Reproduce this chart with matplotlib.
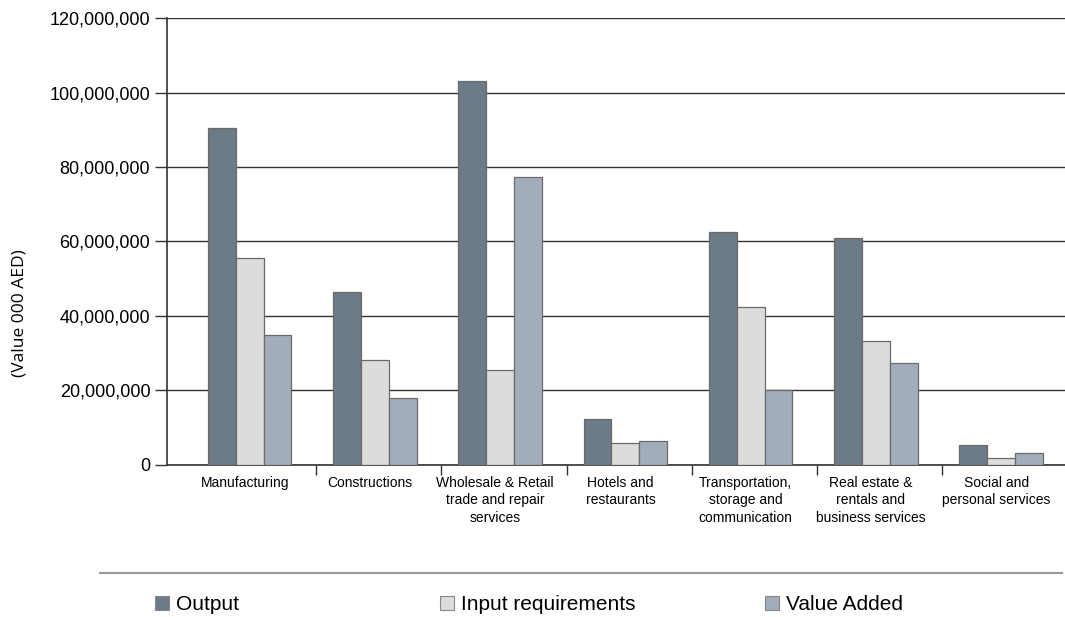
import numpy as np
import matplotlib.pyplot as plt
from matplotlib.patches import Patch
from matplotlib.ticker import FuncFormatter

plt.rcParams['font.family'] = ['Liberation Sans', 'DejaVu Sans']

categories = ["Manufacturing", "Constructions", "Wholesale & Retail\ntrade and repair\nservices",
              "Hotels and\nrestaurants", "Transportation,\nstorage and\ncommunication",
              "Real estate &\nrentals and\nbusiness services", "Social and\npersonal services"]
output_vals = [90.5e6, 46.5e6, 103e6, 12.3e6, 62.5e6, 61e6, 5.3e6]
input_vals = [55.7e6, 28.1e6, 25.6e6, 5.9e6, 42.5e6, 33.4e6, 2e6]
value_added = [35e6, 18e6, 77.4e6, 6.4e6, 20e6, 27.5e6, 3.3e6]
series_names = ["Output", "Input requirements", "Value Added"]
colors = ["#6d7a88", "#dcdcdd", "#a3adb9"]

fig = plt.figure(figsize=(10.65, 6.17), dpi=100)
ax = fig.add_axes([0.1568, 0.2464, 0.8432, 0.7244])

x = np.arange(len(categories))
w = 0.222
for i, (vals, c) in enumerate(zip([output_vals, input_vals, value_added], colors)):
    ax.bar(x + (i - 1) * w - 0.03, vals, width=w, color=c, edgecolor="#6a6a6a",
           linewidth=0.9, zorder=3)

ax.set_ylim(0, 120e6)
ax.set_xlim(-0.69, len(categories) - 0.52)
ax.set_yticks(np.arange(0, 120e6 + 1, 20e6))
ax.yaxis.set_major_formatter(FuncFormatter(lambda v, p: f"{int(v):,}"))
ax.grid(axis="y", color="#333333", linewidth=1.0, zorder=1)
ax.tick_params(axis="y", labelsize=13, length=9, width=1, color="#333333", pad=3)

ax.set_xticks(x - 0.07)
ax.set_xticklabels(categories, fontsize=10, linespacing=1.3)
ax.tick_params(axis="x", length=0, pad=8)
ax.set_xticks(np.arange(0.5, len(categories) - 1, 1), minor=True)
ax.tick_params(axis="x", which="minor", length=7, width=1, color="#333333")

for s in ["top", "right"]:
    ax.spines[s].set_visible(False)
ax.spines["left"].set_color("#333333")
ax.spines["bottom"].set_color("#333333")
ax.spines["left"].set_linewidth(1.2)
ax.spines["bottom"].set_linewidth(1.2)

fig.text(0.018, 0.493, "(Value 000 AED)", rotation=90, va="center", ha="center",
         fontsize=12.5, family=["Open Sans", "DejaVu Sans"])

# separator line above legend
fig.add_artist(plt.Line2D([100 / 1065, 1062 / 1065], [1 - 573 / 617] * 2,
                          color="#9a9a9a", linewidth=1.5))

xpos = [155, 440, 765]
for name, c, xp in zip(series_names, colors, xpos):
    fig.legend(handles=[Patch(facecolor=c, edgecolor="#888888", linewidth=0.8)],
               labels=[name], loc="center left", bbox_to_anchor=(xp / 1065, 1 - 605 / 617),
               frameon=False, fontsize=15, handlelength=0.65, handleheight=0.65,
               handletextpad=0.35, borderpad=0, borderaxespad=0)

fig.savefig("out.png", dpi=100)
